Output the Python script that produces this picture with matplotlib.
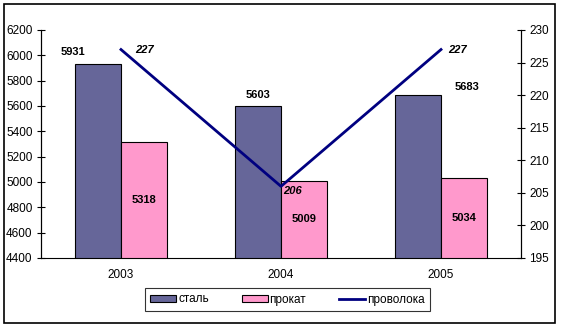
import matplotlib
matplotlib.use('Agg')
import matplotlib.pyplot as plt
from matplotlib.patches import Rectangle
import numpy as np

# --- data ---
years = ["2003", "2004", "2005"]
stal = [5931, 5603, 5683]
prokat = [5318, 5009, 5034]
provoloka = [227, 206, 227]

plt.rcParams['font.family'] = ['Liberation Sans', 'DejaVu Sans']
plt.rcParams['font.size'] = 8.5

C_STAL = '#666699'
C_PROKAT = '#FF99CC'
C_LINE = '#000080'

fig = plt.figure(figsize=(5.61, 3.27), dpi=100)
fig.patches.append(Rectangle((4 / 561, 1 - 323 / 327), 551 / 561, 319 / 327,
                             transform=fig.transFigure, fill=False,
                             edgecolor='black', lw=1.2))

ax = fig.add_axes([41 / 561, 1 - 258 / 327, 480 / 561, 228 / 327])
ax2 = ax.twinx()

x = np.arange(len(years))
w = 0.2875
ax.bar(x - w / 2, stal, w, color=C_STAL, edgecolor='black', lw=0.8, label='сталь')
ax.bar(x + w / 2, prokat, w, color=C_PROKAT, edgecolor='black', lw=0.8, label='прокат')
ax.set_ylim(4400, 6200)
ax.set_yticks(range(4400, 6201, 200))
ax.set_xlim(-0.5, 2.5)
ax.set_xticks(x)
ax.set_xticklabels(years)

ax2.plot(x, provoloka, color=C_LINE, lw=2, label='проволока')
ax2.set_ylim(195, 230)
ax2.set_yticks(range(195, 231, 5))

for a in (ax, ax2):
    a.spines['top'].set_visible(False)
ax2.spines['bottom'].set_visible(False)
ax.tick_params(axis='y', direction='inout', length=6, pad=3)
ax2.tick_params(axis='y', direction='inout', length=6, pad=3)
ax.tick_params(axis='x', length=0, pad=8)
ax.set_zorder(ax2.get_zorder() - 1)
ax2.patch.set_visible(False)

# --- value labels (offsets in pixels) ---
stal_off = [(-25, 12), (0, 11), (49, 8)]
for i, v in enumerate(stal):
    ax.annotate(str(v), (x[i] - w / 2, v), xytext=stal_off[i], textcoords='offset pixels',
                ha='center', va='center', fontweight='bold', fontsize=8)
for i, v in enumerate(prokat):
    mid = (v + 4400) / 2
    ax.annotate(str(v), (x[i] + w / 2, mid), xytext=(0, 0), textcoords='offset pixels',
                ha='center', va='center', fontweight='bold', fontsize=8)
line_off = [(24, 0), (12, -5), (17, 0)]
for i, v in enumerate(provoloka):
    ax2.annotate(str(v), (x[i], v), xytext=line_off[i], textcoords='offset pixels',
                 ha='center', va='center', fontweight='bold', fontstyle='italic', fontsize=8)

h1, l1 = ax.get_legend_handles_labels()
h2, l2 = ax2.get_legend_handles_labels()
leg = fig.legend(h1 + h2, l1 + l2, loc='center', bbox_to_anchor=(287.5 / 561, 1 - 299.5 / 327),
                 ncol=3, frameon=True, fancybox=False, edgecolor='black',
                 handlelength=2.2, handleheight=0.5, handletextpad=0.15,
                 columnspacing=2.8, borderpad=0.45, borderaxespad=0)
leg.get_frame().set_linewidth(0.8)

fig.savefig('out.png', dpi=100)
